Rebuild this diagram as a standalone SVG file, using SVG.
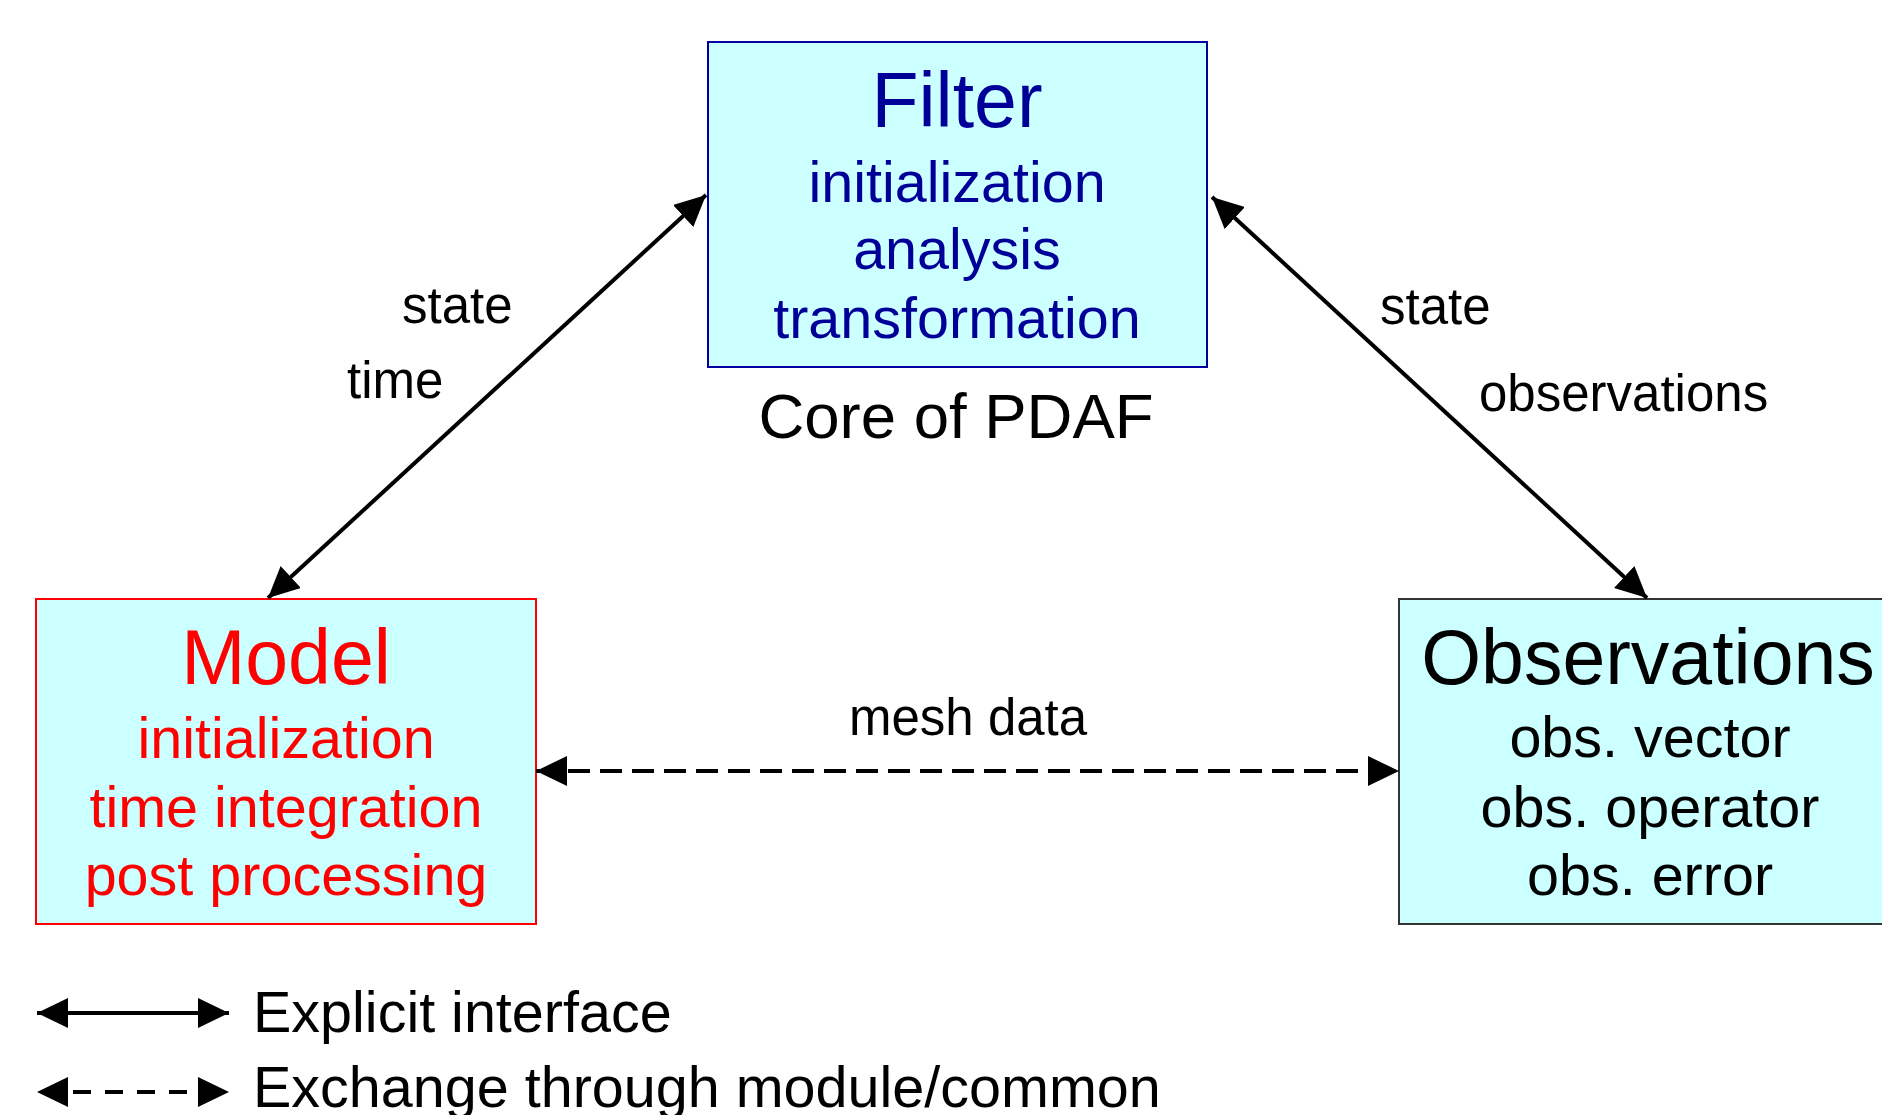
<svg xmlns="http://www.w3.org/2000/svg" width="1882" height="1115" viewBox="0 0 1882 1115">
  <style>
    text { font-family: "Liberation Sans", Arial, sans-serif; }
    .box { fill: #ccffff; stroke-width: 2; }
    .title { font-size: 77px; text-anchor: middle; }
    .sub { font-size: 57.5px; text-anchor: middle; }
    .lbl { font-size: 51px; fill: #000; }
    .leg { font-size: 57.5px; fill: #000; }
    .conn { stroke: #000; stroke-width: 4; fill: none; }
    .dash { stroke-dasharray: 22 10; }
    .ldash { stroke-dasharray: 18 14; stroke-dashoffset: -4; }
  </style>
  <defs>
    <marker id="ah" viewBox="0 0 31 30" refX="31" refY="15" markerWidth="31" markerHeight="30" markerUnits="userSpaceOnUse" orient="auto-start-reverse">
      <path d="M0,0 L31,15 L0,30 z" fill="#000"/>
    </marker>
  </defs>
  <rect width="1882" height="1115" fill="#ffffff"/>

  <g id="filter">
    <rect class="box" x="708" y="42" width="499" height="325" stroke="#0000a0"/>
    <text class="title" x="957" y="127" fill="#000099">Filter</text>
    <text class="sub" x="957" y="202" fill="#000099">initialization</text>
    <text class="sub" x="957" y="269" fill="#000099">analysis</text>
    <text class="sub" x="957" y="338" fill="#000099">transformation</text>
    <text x="956" y="438" fill="#000" style="font-size:63.5px;text-anchor:middle">Core of PDAF</text>
  </g>

  <g id="model">
    <rect class="box" x="36" y="599" width="500" height="325" stroke="#ff0000"/>
    <text class="title" x="286" y="684" fill="#ff0000">Model</text>
    <text class="sub" x="286" y="758" fill="#ff0000">initialization</text>
    <text class="sub" x="286" y="827" fill="#ff0000">time integration</text>
    <text class="sub" x="286" y="895" fill="#ff0000">post processing</text>
  </g>

  <g id="observations">
    <rect class="box" x="1399" y="599" width="502" height="325" stroke="#333333"/>
    <text class="title" x="1648" y="684" fill="#000">Observations</text>
    <text class="sub" x="1650" y="757" fill="#000">obs. vector</text>
    <text class="sub" x="1650" y="827" fill="#000">obs. operator</text>
    <text class="sub" x="1650" y="895" fill="#000">obs. error</text>
  </g>

  <g id="connectors">
    <line class="conn" x1="268" y1="598" x2="706" y2="195" marker-start="url(#ah)" marker-end="url(#ah)"/>
    <line class="conn" x1="1212" y1="197" x2="1647" y2="598" marker-start="url(#ah)" marker-end="url(#ah)"/>
    <line class="conn dash" x1="536" y1="771" x2="1399" y2="771" marker-start="url(#ah)" marker-end="url(#ah)"/>
    <text class="lbl" x="402" y="323">state</text>
    <text class="lbl" x="347" y="398">time</text>
    <text class="lbl" x="1380" y="324">state</text>
    <text class="lbl" x="1479" y="411">observations</text>
    <text class="lbl" x="849" y="735">mesh data</text>
  </g>

  <g id="legend">
    <line class="conn" x1="37" y1="1013" x2="229" y2="1013" marker-start="url(#ah)" marker-end="url(#ah)"/>
    <line class="conn ldash" x1="37" y1="1092" x2="229" y2="1092" marker-start="url(#ah)" marker-end="url(#ah)"/>
    <text class="leg" x="253" y="1032">Explicit interface</text>
    <text class="leg" x="253" y="1107">Exchange through module/common</text>
  </g>
</svg>
